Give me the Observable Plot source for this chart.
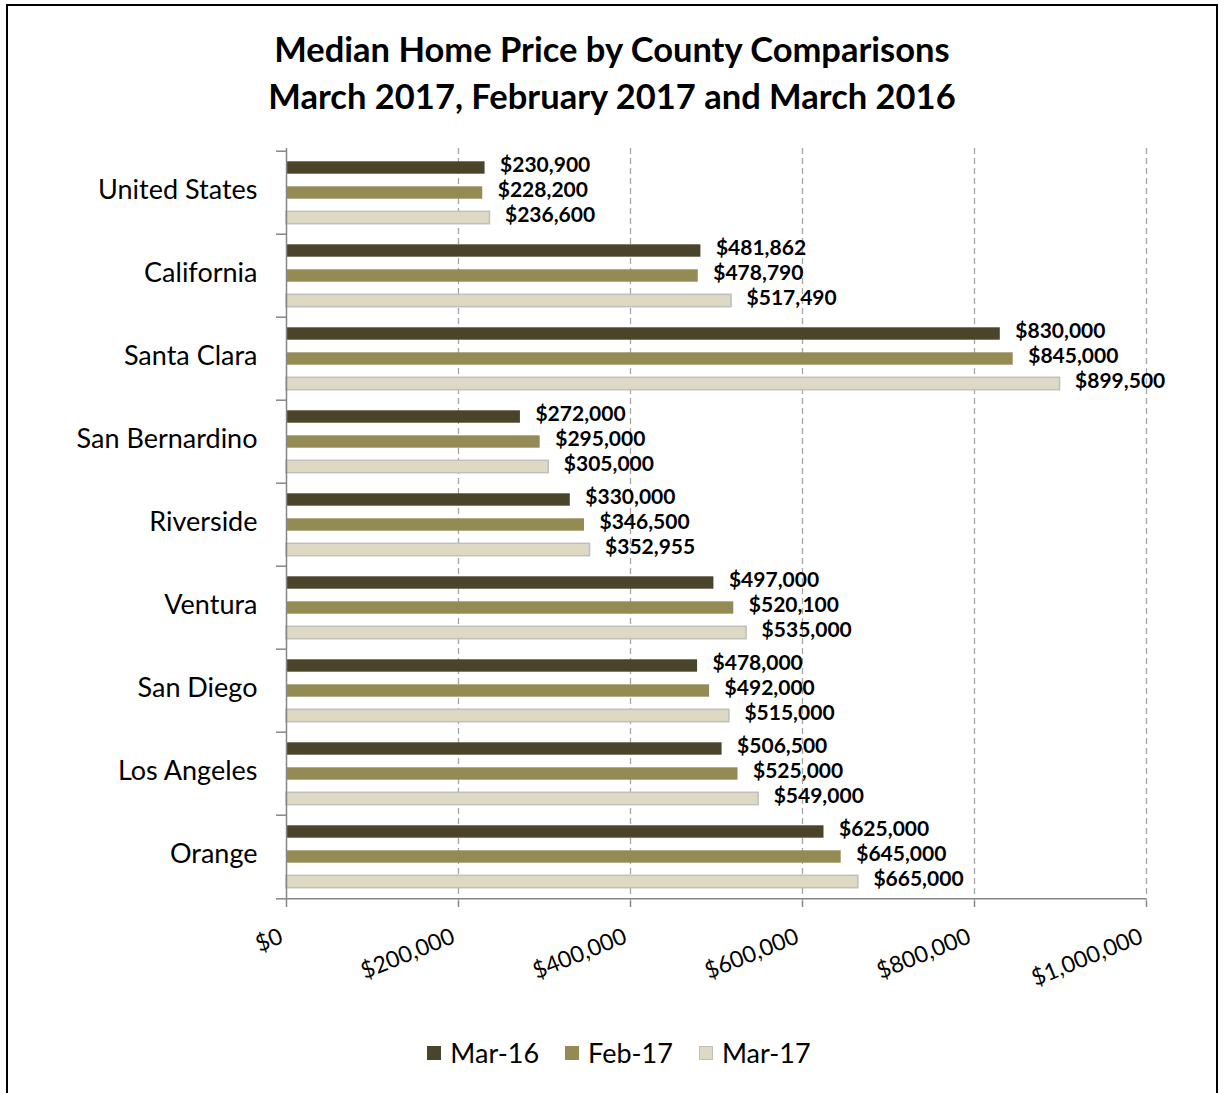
<!DOCTYPE html>
<html>
<head>
<meta charset="utf-8">
<script src="https://cdn.jsdelivr.net/npm/d3@7"></script>
<script src="https://cdn.jsdelivr.net/npm/@observablehq/plot@0.6"></script>
<style>
  html, body { margin: 0; padding: 0; background: #fff; }
  body { width: 1224px; height: 1093px; position: relative; overflow: hidden; font-family: Lato, "Open Sans", sans-serif; }
  #frame { position: absolute; left: 6px; top: 4px; width: 1212px; height: 1200px; border: 2px solid #000; box-sizing: border-box; }
  #title { position: absolute; left: 0; top: 25px; width: 1224px; text-align: center; font-family: Lato, sans-serif; font-weight: bold; font-size: 34.5px; line-height: 47px; color: #000; }
  #chart { position: absolute; left: 0; top: 130px; }
  #legend { position: absolute; left: 0; top: 1036px; width: 1224px; display: flex; justify-content: center; gap: 26px; font-size: 27px; color: #000; padding-left: 14px; box-sizing: border-box; }
  .item { display: flex; align-items: center; gap: 9px; }
  .sw { width: 14px; height: 14px; box-sizing: border-box; }
</style>
</head>
<body>
<div id="frame"></div>
<div id="title">Median Home Price by County Comparisons<br>March 2017, February 2017 and March 2016</div>
<div id="chart"></div>
<div id="legend"></div>
<script>
const counties = ["United States", "California", "Santa Clara", "San Bernardino", "Riverside", "Ventura", "San Diego", "Los Angeles", "Orange"];
const seriesNames = ["Mar-16", "Feb-17", "Mar-17"];
const mar16 = [230900, 481862, 830000, 272000, 330000, 497000, 478000, 506500, 625000];
const feb17 = [228200, 478790, 845000, 295000, 346500, 520100, 492000, 525000, 645000];
const mar17 = [236600, 517490, 899500, 305000, 352955, 535000, 515000, 549000, 665000];
const xTicks = [0, 200000, 400000, 600000, 800000, 1000000];
const colors = ["#4a452a", "#948a54", "#ddd9c3"];
const strokes = ["none", "none", "#bfbfbf"];

const seriesValues = [mar16, feb17, mar17];
const rows = seriesValues.map((vals, s) => counties.map((c, i) => ({county: c, value: vals[i], series: seriesNames[s]})));
const offsets = [-25, 0, 25];
const fmt = d => "$" + d3.format(",")(d);

const marks = [
  Plot.gridX(xTicks.slice(1), {stroke: "#a6a6a6", strokeOpacity: 1, strokeDasharray: "6,4", strokeWidth: 1.3}),
];
rows.forEach((r, s) => {
  marks.push(Plot.barX(r, {x: "value", y: "county", fill: colors[s], stroke: strokes[s], strokeWidth: 1.5, insetTop: 35.3, insetBottom: 35.3, dy: offsets[s]}));
  marks.push(Plot.text(r, {x: "value", y: "county", text: d => fmt(d.value), dy: offsets[s] - 2.5, dx: 15, textAnchor: "start", fontWeight: "bold", fontSize: 21, fill: "#000"}));
});
marks.push(
  Plot.ruleX([0], {stroke: "#868686", strokeWidth: 1.5}),
  Plot.ruleY([0], {y: () => counties[counties.length - 1], dy: 41.8, x1: 0, x2: 1000000, stroke: "#868686", strokeWidth: 1.5}),
  Plot.axisY({tickSize: 0, tickPadding: 29, fontSize: 27, fill: "#000", dy: -2.5, label: null}),
  Plot.axisY({tickSize: 10, dy: -41.8, text: null, stroke: "#868686", strokeWidth: 1.5, label: null}),
  Plot.axisY([counties[counties.length - 1]], {tickSize: 10, dy: 41.8, text: null, stroke: "#868686", strokeWidth: 1.5, label: null}),
  Plot.axisX(xTicks, {tickSize: 6, text: null, stroke: "#868686", strokeWidth: 1.5, label: null}),
  Plot.axisX(xTicks, {tickSize: 0, tickPadding: 34, tickRotate: -22, tickFormat: fmt, fontSize: 23, dx: -5, fill: "#000", label: null})
);

const chart = Plot.plot({
  width: 1224,
  height: 860,
  marginLeft: 286,
  marginRight: 78,
  marginTop: 18,
  marginBottom: 89,
  style: {fontFamily: "Lato, 'Open Sans', sans-serif", background: "transparent", overflow: "visible"},
  x: {domain: [0, 1000000]},
  y: {domain: counties, padding: 0},
  marks
});
document.getElementById("chart").appendChild(chart);

const legend = document.getElementById("legend");
seriesNames.forEach((n, i) => {
  const it = document.createElement("div");
  it.className = "item";
  const sw = document.createElement("div");
  sw.className = "sw";
  sw.style.background = colors[i];
  if (strokes[i] !== "none") sw.style.border = "1.5px solid " + strokes[i];
  const t = document.createElement("span");
  t.textContent = n;
  it.appendChild(sw); it.appendChild(t);
  legend.appendChild(it);
});
</script>
</body>
</html>
